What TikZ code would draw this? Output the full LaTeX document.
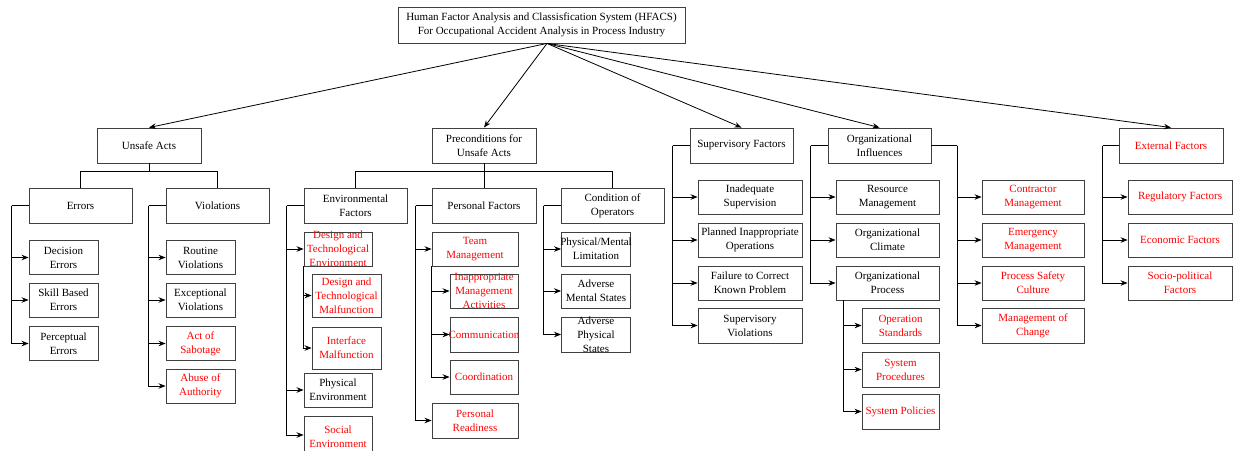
\documentclass[tikz,border=0pt]{standalone}
\usepackage{fontspec}
\setmainfont{Liberation Serif}
\usetikzlibrary{arrows.meta}
\tikzset{
  box/.style={draw=black!75, line width=0.9pt, rectangle, inner sep=0pt, fill=none},
  txt/.style={inner sep=0pt, align=center, font=\fontsize{11}{14}\selectfont},
  ln/.style={draw=black, line width=0.8pt},
  arr/.style={ln, -{Stealth[length=7pt,width=5.5pt]}},
}
% name, x, y, w, h, colour, text
\newcommand{\mkbox}[7]{%
  \node[box, minimum width=#4pt, minimum height=#5pt] (#1) at (#2,#3) {};
  \node[txt, text=#6] (#1-t) at (#1.center) {#7};
}
\begin{document}
\begin{tikzpicture}[x=1pt, y=-1pt]
\useasboundingbox (0,0) rectangle (1236,450);
\clip (0,0) rectangle (1236,450);
% top
\mkbox{top}{541.5}{25}{287}{36}{black}{Human Factor Analysis and Classisfication System (HFACS)\\For Occupational Accident Analysis in Process Industry}
% level 1
\mkbox{ua}{149}{145.5}{104}{35}{black}{Unsafe Acts}
\mkbox{pre}{484}{145.5}{104}{35}{black}{Preconditions for\\Unsafe Acts}
\mkbox{sup}{741.5}{145.5}{103}{35}{black}{Supervisory Factors}
\mkbox{oi}{879.5}{145.5}{103}{35}{black}{Organizational\\Influences}
\mkbox{ext}{1171}{145.5}{104}{35}{red}{External Factors}
% level 2
\mkbox{err}{80.5}{205.5}{103}{35}{black}{Errors}
\mkbox{vio}{217.5}{205.5}{103}{35}{black}{Violations}
\mkbox{env}{355.5}{205.5}{103}{35}{black}{Environmental\\Factors}
\mkbox{pf}{484}{205.5}{104}{35}{black}{Personal Factors}
\mkbox{cop}{612.5}{205.5}{103}{35}{black}{Condition of\\Operators}
% unsafe acts children
\mkbox{de}{63.5}{257.5}{69}{34}{black}{Decision\\Errors}
\mkbox{sb}{63.5}{300}{69}{34}{black}{Skill Based\\Errors}
\mkbox{pe}{63.5}{343.5}{69}{34}{black}{Perceptual\\Errors}
\mkbox{rv}{200.5}{257.5}{69}{34}{black}{Routine\\Violations}
\mkbox{ev}{200.5}{300}{69}{34}{black}{Exceptional\\Violations}
\mkbox{as}{200.5}{343.5}{69}{34}{red}{Act of\\Sabotage}
\mkbox{aa}{200.5}{386}{69}{34}{red}{Abuse of\\Authority}
% environmental children
\mkbox{dte}{338}{249}{68}{34}{red}{Design and\\Technological\\Environment}
\mkbox{dtm}{346.5}{295.5}{69}{43}{red}{Design and\\Technological\\Malfunction}
\mkbox{im}{346.5}{348}{69}{42}{red}{Interface\\Malfunction}
\mkbox{phe}{338}{390}{68}{34}{black}{Physical\\Environment}
\node[box, minimum width=68pt, minimum height=38pt] (soe) at (338,435) {};
\node[txt, text=red] (soe-t) at (338,437) {Social\\Environment};
% personal factors children
\mkbox{tm}{475}{249}{86}{34}{red}{Team\\Management}
\mkbox{ima}{484}{291}{68}{34}{red}{Inappropriate\\Management\\Activities}
\mkbox{com}{484}{334.5}{68}{35}{red}{Communication}
\mkbox{crd}{484}{377}{68}{34}{red}{Coordination}
\mkbox{pr}{475}{420.5}{86}{35}{red}{Personal\\Readiness}
% condition of operators children
\mkbox{pml}{596}{249}{69}{34}{black}{Physical/Mental\\Limitation}
\mkbox{ams}{596}{291}{69}{34}{black}{Adverse\\Mental States}
\mkbox{aps}{596}{334.5}{69}{35}{black}{Adverse\\Physical\\States}
% supervisory children
\mkbox{is}{750}{197}{104}{34}{black}{Inadequate\\Supervision}
\mkbox{pio}{750}{240}{104}{34}{black}{Planned Inappropriate\\Operations}
\mkbox{fck}{750}{283}{104}{34}{black}{Failure to Correct\\Known Problem}
\mkbox{sv}{750}{325.5}{104}{35}{black}{Supervisory\\Violations}
% organizational children
\mkbox{rm}{887.5}{197}{103}{34}{black}{Resource\\Management}
\mkbox{oc}{887.5}{240}{103}{34}{black}{Organizational\\Climate}
\mkbox{op}{887.5}{283}{103}{34}{black}{Organizational\\Process}
\mkbox{os}{900.5}{325.5}{77}{35}{red}{Operation\\Standards}
\mkbox{sp}{900.5}{369.5}{77}{35}{red}{System\\Procedures}
\mkbox{spo}{900.5}{411.5}{77}{35}{red}{System Policies}
\mkbox{cm}{1033}{197}{102}{34}{red}{Contractor\\Management}
\mkbox{em}{1033}{240}{102}{34}{red}{Emergency\\Management}
\mkbox{psc}{1033}{283}{102}{34}{red}{Process Safety\\Culture}
\mkbox{moc}{1033}{325.5}{102}{35}{red}{Management of\\Change}
% external children
\mkbox{rf}{1180}{197}{104}{34}{red}{Regulatory Factors}
\mkbox{ef}{1180}{240}{104}{34}{red}{Economic Factors}
\mkbox{spf}{1180}{283}{104}{34}{red}{Socio-political\\Factors}
% top arrows
\coordinate (hub) at ([xshift=5.5pt]top.south);
\foreach \n in {ua,pre,sup,oi,ext} \draw[arr] (hub) -- (\n.north);
% tree connectors level 1 -> 2
\draw[ln] (ua.south) -- ++(0,8) coordinate (uab);
\draw[ln] (err.north) |- (uab) -| (vio.north);
\draw[ln] (pre.south) -- ++(0,8) coordinate (preb);
\draw[ln] (env.north) |- (preb) -| (cop.north);
\draw[ln] (pf.north) -- (preb);
% buses
\coordinate (errb) at ([xshift=-17pt]err.west);
\draw[ln] (err.west) -- (errb);
\foreach \c in {de,sb,pe} \draw[arr] (errb) |- (\c.west);
\coordinate (viob) at ([xshift=-17pt]vio.west);
\draw[ln] (vio.west) -- (viob);
\foreach \c in {rv,ev,as,aa} \draw[arr] (viob) |- (\c.west);
\coordinate (envb) at ([xshift=-17pt]env.west);
\draw[ln] (env.west) -- (envb);
\foreach \c in {dte,phe,soe} \draw[arr] (envb) |- (\c.west);
\foreach \c in {dtm,im} \draw[arr] (dte.south west) |- (\c.west);
\coordinate (pfb) at ([xshift=-16pt]pf.west);
\draw[ln] (pf.west) -- (pfb);
\foreach \c in {tm,pr} \draw[arr] (pfb) |- (\c.west);
\foreach \c in {ima,com,crd} \draw[arr] (tm.south west) |- (\c.west);
\coordinate (copb) at ([xshift=-17pt]cop.west);
\draw[ln] (cop.west) -- (copb);
\foreach \c in {pml,ams,aps} \draw[arr] (copb) |- (\c.west);
\coordinate (supb) at ([xshift=-17pt]sup.west);
\draw[ln] (sup.west) -- (supb);
\foreach \c in {is,pio,fck,sv} \draw[arr] (supb) |- (\c.west);
\coordinate (oib) at ([xshift=-17pt]oi.west);
\draw[ln] (oi.west) -- (oib);
\foreach \c in {rm,oc,op} \draw[arr] (oib) |- (\c.west);
\coordinate (opb) at ([xshift=8pt]op.south west);
\foreach \c in {os,sp,spo} \draw[arr] (opb) |- (\c.west);
\coordinate (oirb) at ([xshift=26pt]oi.east);
\draw[ln] (oi.east) -- (oirb);
\foreach \c in {cm,em,psc,moc} \draw[arr] (oirb) |- (\c.west);
\coordinate (extb) at ([xshift=-16pt]ext.west);
\draw[ln] (ext.west) -- (extb);
\foreach \c in {rf,ef,spf} \draw[arr] (extb) |- (\c.west);
\end{tikzpicture}
\end{document}
